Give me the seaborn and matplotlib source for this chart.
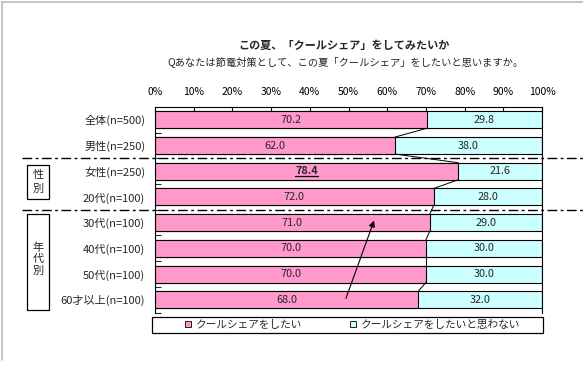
import numpy as np
import pandas as pd
import seaborn as sns
import matplotlib.pyplot as plt
from matplotlib.lines import Line2D
from matplotlib.patches import Rectangle
from matplotlib.ticker import FixedLocator
from matplotlib.transforms import blended_transform_factory

groups = ['全体(n=500)', '男性(n=250)', '女性(n=250)', '20代(n=100)',
          '30代(n=100)', '40代(n=100)', '50代(n=100)', '60才以上(n=100)']
want = [70.2, 62.0, 78.4, 72.0, 71.0, 70.0, 70.0, 68.0]
not_want = [29.8, 38.0, 21.6, 28.0, 29.0, 30.0, 30.0, 32.0]
xticks = list(range(0, 101, 10))

title = 'この夏、「クールシェア」をしてみたいか'
subtitle = 'Qあなたは節電対策として、この夏「クールシェア」をしたいと思いますか。'
legend_labels = ['クールシェアをしたい', 'クールシェアをしたいと思わない']

pink = '#FF99CC'
cyan = '#CCFFFF'

sns.set_style('white')
plt.rcParams['font.family'] = ['Noto Sans CJK JP', 'DejaVu Sans']

df = pd.DataFrame({'group': groups, 'want': want, 'not_want': not_want})
df['total'] = df['want'] + df['not_want']

W, H = 583, 379
fig = plt.figure(figsize=(W / 100, H / 100), dpi=100)
ax = fig.add_axes([155 / W, 1 - 312.6 / H, 387 / W, 205.6 / H])

bw = 0.66
# stacked bars: full bar in cyan, "want" part drawn over it in pink
sns.barplot(data=df, x='total', y='group', orient='h', color=cyan, saturation=1,
            edgecolor='black', linewidth=0.8, width=bw, errorbar=None, ax=ax)
sns.barplot(data=df, x='want', y='group', orient='h', color=pink, saturation=1,
            edgecolor='black', linewidth=0.8, width=bw, errorbar=None, ax=ax)

# series lines between bars
for i in range(len(want) - 1):
    ax.plot([want[i], want[i + 1]], [i + bw / 2, i + 1 - bw / 2], color='black', lw=0.7)

# value labels
hl = None
for i, (a, b) in enumerate(zip(want, not_want)):
    if i == 2:
        hl = ax.text(a / 2, i, f'{a:.1f}', ha='center', va='center', fontsize=7.8,
                     fontweight='bold', fontstyle='italic')
    else:
        ax.text(a / 2, i, f'{a:.1f}', ha='center', va='center', fontsize=7.8)
    ax.text(a + b / 2, i, f'{b:.1f}', ha='center', va='center', fontsize=7.8)

ax.set_xlim(0, 100)
ax.set_ylim(len(groups) - 0.5, -0.5)
ax.xaxis.tick_top()
ax.set_xticks(xticks)
ax.set_xticklabels([f'{v}%' for v in xticks], fontsize=7.5)
ax.tick_params(axis='x', direction='in', length=4, width=0.8, pad=7, colors='black')
ax.tick_params(axis='y', which='major', length=0, pad=7, labelsize=8)
ax.yaxis.set_minor_locator(FixedLocator(np.arange(0.5, len(groups), 1)))
ax.tick_params(axis='y', which='minor', direction='in', length=4, width=0.8, left=True)
ax.set_xlabel('')
ax.set_ylabel('')
for s in ['top', 'left', 'right']:
    ax.spines[s].set_visible(True)
    ax.spines[s].set_color('black')
    ax.spines[s].set_linewidth(0.8)
ax.spines['bottom'].set_visible(False)

# underline for the highlighted value
fig.canvas.draw()
bb = hl.get_window_extent().transformed(ax.transData.inverted())
ax.plot([bb.x0, bb.x1], [bb.y0 - 0.02, bb.y0 - 0.02], color='black', lw=0.9)

# dash-dot separators
tr = blended_transform_factory(fig.transFigure, ax.transData)
for yy in [1.5, 3.5]:
    ax.plot([22 / W, 1.0], [yy, yy], transform=tr, clip_on=False, color='black',
            lw=1.0, linestyle=(0, (7, 2.5, 2, 2.5)))

# group boxes
fig.add_artist(Rectangle((27 / W, 1 - 199 / H), 22 / W, 34 / H, transform=fig.transFigure,
                         fill=False, edgecolor='black', lw=0.9))
fig.text(38 / W, 1 - 182 / H, '性\n別', ha='center', va='center', fontsize=8, linespacing=1.4)
fig.add_artist(Rectangle((27 / W, 1 - 310 / H), 22 / W, 96 / H, transform=fig.transFigure,
                         fill=False, edgecolor='black', lw=0.9))
fig.text(38 / W, 1 - 259 / H, '年\n代\n別', ha='center', va='center', fontsize=8, linespacing=1.2)

# arrow
ax.annotate('', xy=(375 / W, 1 - 218 / H), xytext=(345 / W, 1 - 301 / H),
            xycoords='figure fraction', textcoords='figure fraction',
            arrowprops=dict(arrowstyle='-|>', color='black', lw=0.8, mutation_scale=9))

# titles
fig.text(344 / W, 1 - 45 / H, title, ha='center', va='center', fontsize=8, fontweight='bold')
fig.text(345 / W, 1 - 62 / H, subtitle, ha='center', va='center', fontsize=7.4)

# legend
handles = [Line2D([], [], marker='s', linestyle='none', markersize=5, markerfacecolor=c,
                  markeredgecolor='black', markeredgewidth=0.6) for c in [pink, cyan]]
fig.add_artist(Rectangle((152 / W, 1 - 333 / H), 391 / W, 16 / H, transform=fig.transFigure,
                         fill=False, edgecolor='black', lw=0.9))
fig.legend(handles, legend_labels, loc='center', bbox_to_anchor=(352 / W, 1 - 325 / H),
           ncol=2, frameon=False, fontsize=7.7, handlelength=0.8, handletextpad=0.3,
           columnspacing=4.4, borderpad=0)

# outer gray frame
fig.add_artist(Line2D([2 / W, 2 / W], [1 - 2 / H, 1 - 360 / H], color='#BBBBBB', lw=1.2))
fig.add_artist(Line2D([2 / W, 1.0], [1 - 2 / H, 1 - 2 / H], color='#BBBBBB', lw=1.2))

fig.savefig('out.png', dpi=100)
